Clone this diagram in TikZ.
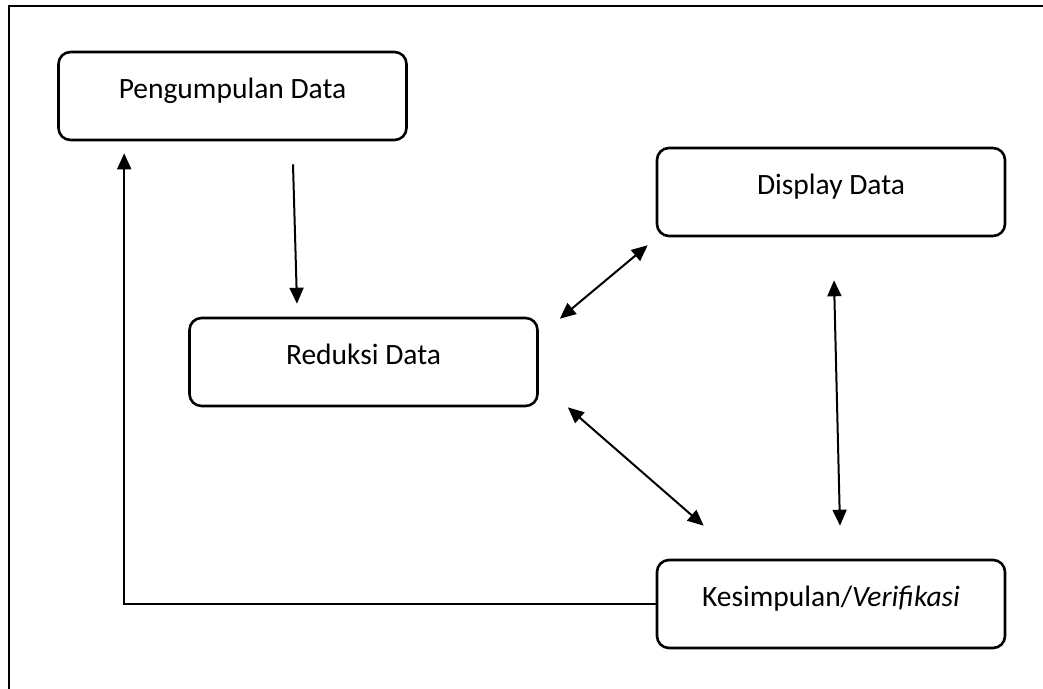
\documentclass[tikz,border=0pt]{standalone}
\usepackage{fontspec}
\setmainfont{Carlito}
\usetikzlibrary{arrows.meta,calc}

\begin{document}
\begin{tikzpicture}[x=1pt,y=-1pt,
    stagebox/.style={draw=black,line width=2.6pt,rounded corners=12pt,
        minimum width=348pt,minimum height=88pt,inner sep=0pt,
        text height=21pt,text depth=17pt,
        font=\fontsize{29.5pt}{34pt}\selectfont},
    flow/.style={line width=2pt,-{Triangle[length=16pt,width=14pt]}},
    twoway/.style={line width=2pt,{Triangle[length=16pt,width=14pt]}-{Triangle[length=16pt,width=14pt]}}]
    \useasboundingbox (0,0) rectangle (1043,688);
    \draw[line width=2.6pt] (9,700) |- (1060,6);
    \node[stagebox] (pd) at (232.5,96) {Pengumpulan Data};
    \node[stagebox] (dd) at (831,192) {Display Data};
    \node[stagebox] (rd) at (363.5,362) {Reduksi Data};
    \node[stagebox] (kv) at (831,604) {Kesimpulan/\textit{Verifikasi}};
    % arrows
    \draw[flow] ($(pd.south)+(60.5,23)$) -- ($(rd.north)+(-66.5,-13)$);
    \draw[flow] (kv.west) -| ($(pd.south west)+(67,12)$);
    \draw[twoway] ($(rd.north east)+(21,2)$) -- ($(dd.south west)+(-8,8)$);
    \draw[twoway] ($(rd.south east)+(29,0)$) -- ($(kv.north west)+(48,-33)$);
    \draw[twoway] ($(dd.south)+(3,43)$) -- ($(kv.north)+(9,-33)$);
\end{tikzpicture}
\end{document}
